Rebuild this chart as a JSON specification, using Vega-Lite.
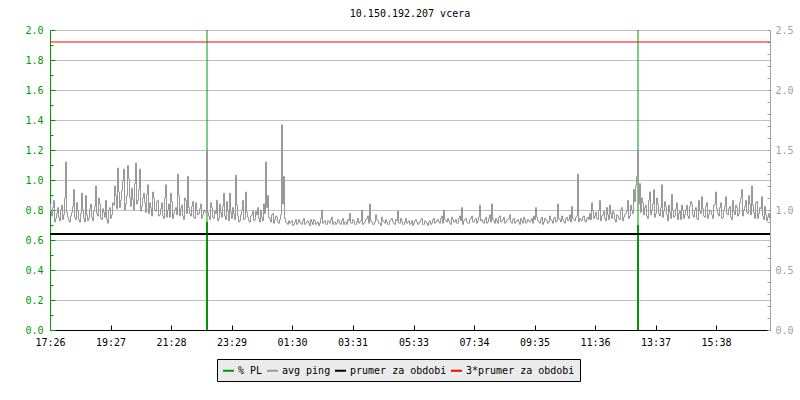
{
"$schema": "https://vega.github.io/schema/vega-lite/v6.json",
"width": 720,
"height": 300,
"autosize": {"type": "none"},
"padding": {"left": 50, "top": 30, "right": 30, "bottom": 70},
"background": "white",
"title": {"text": "10.150.192.207 vcera", "font": "DejaVu Sans Mono", "fontSize": 10, "fontWeight": "normal", "color": "#000000", "anchor": "middle", "frame": "group", "offset": -2, "baseline": "alphabetic"},
"config": {
  "view": {"stroke": null},
  "font": "DejaVu Sans Mono",
  "axis": {"labelFont": "DejaVu Sans Mono", "labelFontSize": 10, "labelOverlap": false, "labelFlush": false, "title": null}
},
"layer": [
  {
    "data": {"values": [{"m": 314, "lo": 0, "hi": 2, "mid": 0.72}, {"m": 1176, "lo": 0, "hi": 2, "mid": 0.70}]},
    "layer": [
      {
        "mark": {"type": "rule", "strokeWidth": 1},
        "encoding": {
          "x": {"field": "m", "type": "quantitative", "scale": {"domain": [0, 1440], "nice": false},
                "axis": {"values": [0, 121, 242, 363, 484, 605, 727, 848, 969, 1090, 1211, 1332], "tickCount": 40, "labelExpr": "timeFormat(datetime(2000,0,1,17,26+datum.value),'%H:%M')", "tickSize": -5, "tickColor": "#000000", "domainColor": "#000000", "labelColor": "#000000", "labelPadding": 12, "grid": false, "labelFlush": false, "title": null}},
          "y": {"field": "lo", "type": "quantitative", "scale": {"domain": [0, 2], "nice": false},
                "axis": {"orient": "left", "values": [0, 0.1, 0.2, 0.3, 0.4, 0.5, 0.6, 0.7, 0.8, 0.9, 1, 1.1, 1.2, 1.3, 1.4, 1.5, 1.6, 1.7, 1.8, 1.9, 2], "tickCount": 40, "format": ".1f", "labelExpr": "round(datum.value*10)%2==0 ? datum.label : ''", "labelColor": "#009900", "domainColor": "#009900", "tickColor": "#009900", "tickSize": {"condition": {"test": "round(datum.value*10)%2==0", "value": -5}, "value": -3}, "labelPadding": 12, "grid": true, "gridColor": "#C0C0C0", "gridOpacity": {"condition": {"test": "round(datum.value*10)%2==0", "value": 1}, "value": 0}, "title": null}},
          "y2": {"field": "hi"},
          "color": {"datum": "% PL", "type": "nominal", "title": null,
                    "scale": {"domain": ["% PL", "avg ping", "prumer za obdobi", "3*prumer za obdobi"], "range": ["#009900", "#999999", "#000000", "#FF0000"]},
                    "legend": {"title": null, "orient": "none", "legendX": 167, "legendY": 329, "direction": "horizontal", "fillColor": "#EBEBEB", "strokeColor": "#000000", "padding": 5, "symbolType": "stroke", "symbolSize": 121, "symbolStrokeWidth": 2, "labelFont": "DejaVu Sans Mono", "labelFontSize": 10, "labelColor": "#000000", "labelOffset": 3, "columnPadding": 0, "cornerRadius": 0}}
        }
      },
      {
        "mark": {"type": "rule", "strokeWidth": 2},
        "encoding": {
          "x": {"field": "m", "type": "quantitative"},
          "y": {"field": "lo", "type": "quantitative"},
          "y2": {"field": "mid"},
          "color": {"datum": "% PL", "type": "nominal", "title": null}
        }
      }
    ]
  },
  {
    "layer": [
      {
        "data": {"values": [
{"m":0,"v":1.05},{"m":4,"v":0.95},{"m":8,"v":1.08},{"m":12,"v":0.93},{"m":16,"v":1.02},{"m":20,"v":0.91},{"m":24,"v":1.04},{"m":28,"v":0.96},{"m":32,"v":1.40},{"m":36,"v":0.94},
{"m":40,"v":0.90},{"m":44,"v":0.98},{"m":48,"v":1.17},{"m":52,"v":0.92},{"m":56,"v":0.99},{"m":60,"v":0.90},{"m":64,"v":1.14},{"m":68,"v":0.93},{"m":72,"v":1.12},{"m":76,"v":0.91},{"m":80,"v":1.01},{"m":84,"v":0.94},{"m":88,"v":0.99},{"m":92,"v":1.20},{"m":96,"v":0.95},{"m":100,"v":1.05},{"m":104,"v":0.92},{"m":108,"v":0.98},{"m":112,"v":1.08},{"m":116,"v":0.89},{"m":120,"v":1.02},{"m":124,"v":0.96},
{"m":128,"v":1.04},{"m":132,"v":1.12},{"m":136,"v":1.35},{"m":140,"v":1.02},{"m":144,"v":1.16},{"m":148,"v":1.34},{"m":152,"v":1.05},{"m":156,"v":1.37},{"m":160,"v":1.10},{"m":164,"v":1.18},{"m":168,"v":1.00},{"m":172,"v":1.39},{"m":176,"v":1.08},{"m":180,"v":1.34},{"m":184,"v":1.03},{"m":188,"v":1.14},{"m":192,"v":0.98},{"m":196,"v":1.21},{"m":200,"v":1.06},{"m":204,"v":0.95},{"m":208,"v":1.10},{"m":212,"v":0.99},{"m":216,"v":1.08},
{"m":220,"v":0.96},{"m":224,"v":1.06},{"m":228,"v":0.93},{"m":232,"v":1.21},{"m":236,"v":1.00},{"m":240,"v":0.94},{"m":244,"v":1.07},{"m":248,"v":0.97},{"m":252,"v":1.02},{"m":256,"v":1.30},{"m":260,"v":0.95},{"m":264,"v":1.04},{"m":268,"v":0.92},{"m":272,"v":1.08},{"m":276,"v":1.28},{"m":280,"v":0.97},{"m":284,"v":1.03},{"m":288,"v":0.94},{"m":292,"v":1.06},{"m":296,"v":0.96},{"m":300,"v":1.01},{"m":304,"v":0.93},{"m":308,"v":1.00},
{"m":314,"v":1.50},
{"m":316,"v":0.98},{"m":320,"v":0.92},{"m":324,"v":1.02},{"m":328,"v":0.93},{"m":332,"v":0.97},{"m":336,"v":0.91},{"m":340,"v":1.05},{"m":344,"v":0.94},{"m":348,"v":1.14},{"m":352,"v":0.92},{"m":356,"v":0.99},{"m":360,"v":1.14},{"m":364,"v":0.93},{"m":368,"v":0.97},{"m":372,"v":1.29},{"m":376,"v":0.95},{"m":380,"v":0.91},{"m":384,"v":1.00},{"m":388,"v":0.92},{"m":392,"v":1.15},{"m":396,"v":0.94},{"m":400,"v":0.90},{"m":404,"v":0.96},{"m":408,"v":0.91},{"m":412,"v":0.99},{"m":416,"v":1.02},{"m":420,"v":0.90},{"m":424,"v":0.94},{"m":428,"v":1.05},{"m":432,"v":1.40},{"m":436,"v":1.12},{"m":440,"v":0.93},{"m":444,"v":0.96},{"m":448,"v":0.89},{"m":452,"v":0.95},{"m":456,"v":0.90},{"m":460,"v":0.92},{"m":464,"v":1.71},{"m":468,"v":1.28},{"m":472,"v":0.90},{"m":476,"v":0.88},
{"m":480,"v":0.89},{"m":484,"v":0.91},{"m":488,"v":0.88},{"m":492,"v":0.92},{"m":496,"v":0.89},{"m":500,"v":0.90},{"m":504,"v":0.88},{"m":508,"v":0.93},{"m":512,"v":0.89},{"m":516,"v":0.91},{"m":520,"v":0.87},{"m":524,"v":0.90},{"m":528,"v":0.92},{"m":532,"v":0.88},{"m":536,"v":0.90},{"m":540,"v":0.89},{"m":544,"v":1.00},{"m":548,"v":0.90},{"m":552,"v":0.88},{"m":556,"v":0.91},{"m":560,"v":0.89},{"m":564,"v":0.94},{"m":568,"v":0.90},{"m":572,"v":0.88},{"m":576,"v":0.92},{"m":580,"v":0.89},{"m":584,"v":0.91},{"m":588,"v":0.88},{"m":592,"v":0.90},{"m":596,"v":0.92},{"m":600,"v":0.97},{"m":604,"v":0.89},{"m":608,"v":0.91},{"m":612,"v":0.88},{"m":616,"v":0.93},{"m":620,"v":0.90},{"m":624,"v":1.00},{"m":628,"v":0.89},{"m":632,"v":0.92},{"m":636,"v":0.95},{"m":640,"v":1.05},{"m":644,"v":0.90},{"m":648,"v":0.88},{"m":652,"v":0.96},{"m":656,"v":0.91},{"m":660,"v":0.89},{"m":664,"v":0.94},{"m":668,"v":0.90},{"m":672,"v":0.92},{"m":676,"v":0.88},{"m":680,"v":0.91},{"m":684,"v":0.93},{"m":688,"v":0.89},{"m":692,"v":0.92},{"m":696,"v":0.99},{"m":700,"v":0.89},{"m":704,"v":0.91},{"m":708,"v":0.88},{"m":712,"v":0.93},{"m":716,"v":0.90},
{"m":720,"v":0.88},{"m":724,"v":0.91},{"m":728,"v":0.89},{"m":732,"v":0.92},{"m":736,"v":0.88},{"m":740,"v":0.90},{"m":744,"v":0.93},{"m":748,"v":0.88},{"m":752,"v":0.90},{"m":756,"v":0.87},{"m":760,"v":0.91},{"m":764,"v":0.89},{"m":768,"v":0.93},{"m":772,"v":0.90},{"m":776,"v":0.92},{"m":780,"v":0.89},{"m":784,"v":0.95},{"m":788,"v":1.00},{"m":792,"v":0.91},{"m":796,"v":0.93},{"m":800,"v":0.89},{"m":804,"v":0.94},{"m":808,"v":0.90},{"m":812,"v":0.92},{"m":816,"v":0.89},{"m":820,"v":0.95},{"m":824,"v":1.02},{"m":828,"v":0.91},{"m":832,"v":0.93},{"m":836,"v":0.89},{"m":840,"v":0.92},{"m":844,"v":0.95},{"m":848,"v":0.90},{"m":852,"v":0.93},{"m":856,"v":0.91},{"m":860,"v":1.04},{"m":864,"v":0.92},{"m":868,"v":0.89},{"m":872,"v":0.94},{"m":876,"v":0.90},{"m":880,"v":0.96},{"m":884,"v":1.05},{"m":888,"v":0.91},{"m":892,"v":0.93},{"m":896,"v":0.89},{"m":900,"v":0.95},{"m":904,"v":0.91},{"m":908,"v":0.94},{"m":912,"v":0.90},{"m":916,"v":0.92},{"m":920,"v":0.96},{"m":924,"v":0.89},{"m":928,"v":0.93},{"m":932,"v":0.90},{"m":936,"v":0.92},{"m":940,"v":0.88},{"m":944,"v":0.91},{"m":948,"v":0.94},{"m":952,"v":0.89},{"m":956,"v":0.92},
{"m":960,"v":0.90},{"m":964,"v":0.93},{"m":968,"v":0.95},{"m":972,"v":1.02},{"m":976,"v":0.91},{"m":980,"v":0.89},{"m":984,"v":0.94},{"m":988,"v":0.90},{"m":992,"v":0.92},{"m":996,"v":0.89},{"m":1000,"v":0.95},{"m":1004,"v":0.91},{"m":1008,"v":0.93},{"m":1012,"v":0.90},{"m":1016,"v":1.05},{"m":1020,"v":0.92},{"m":1024,"v":0.95},{"m":1028,"v":0.90},{"m":1032,"v":0.93},{"m":1036,"v":0.91},{"m":1040,"v":0.96},{"m":1044,"v":1.03},{"m":1048,"v":0.92},{"m":1052,"v":0.94},{"m":1056,"v":1.30},{"m":1060,"v":0.93},{"m":1064,"v":0.91},{"m":1068,"v":0.95},{"m":1072,"v":0.90},{"m":1076,"v":0.94},
{"m":1080,"v":0.97},{"m":1084,"v":1.06},{"m":1088,"v":0.93},{"m":1092,"v":0.98},{"m":1096,"v":0.92},{"m":1100,"v":1.08},{"m":1104,"v":0.95},{"m":1108,"v":0.99},{"m":1112,"v":0.91},{"m":1116,"v":0.96},{"m":1120,"v":1.04},{"m":1124,"v":0.93},{"m":1128,"v":0.97},{"m":1132,"v":0.90},{"m":1136,"v":0.95},{"m":1140,"v":0.92},{"m":1144,"v":1.02},{"m":1148,"v":0.94},{"m":1152,"v":0.97},{"m":1156,"v":1.08},{"m":1160,"v":0.95},{"m":1164,"v":1.00},{"m":1168,"v":1.17},
{"m":1172,"v":1.20},{"m":1176,"v":1.50},
{"m":1180,"v":1.22},{"m":1184,"v":1.10},{"m":1188,"v":0.96},{"m":1192,"v":1.04},{"m":1196,"v":0.93},{"m":1200,"v":1.15},{"m":1204,"v":1.00},{"m":1208,"v":1.17},{"m":1212,"v":0.97},{"m":1216,"v":1.05},{"m":1220,"v":0.95},{"m":1224,"v":1.21},{"m":1228,"v":0.99},{"m":1232,"v":1.03},{"m":1236,"v":0.91},{"m":1240,"v":0.98},{"m":1244,"v":1.13},{"m":1248,"v":0.94},{"m":1252,"v":1.01},{"m":1256,"v":0.92},{"m":1260,"v":0.99},{"m":1264,"v":1.04},{"m":1268,"v":0.93},{"m":1272,"v":1.00},{"m":1276,"v":0.95},{"m":1280,"v":1.03},{"m":1284,"v":1.05},{"m":1288,"v":0.94},{"m":1292,"v":1.02},{"m":1296,"v":0.92},{"m":1300,"v":0.99},{"m":1304,"v":1.11},{"m":1308,"v":0.95},{"m":1312,"v":1.03},{"m":1316,"v":0.93},{"m":1320,"v":1.00},{"m":1324,"v":0.96},{"m":1328,"v":1.04},{"m":1332,"v":1.15},{"m":1336,"v":0.97},{"m":1340,"v":1.02},{"m":1344,"v":0.93},{"m":1348,"v":1.00},{"m":1352,"v":1.11},{"m":1356,"v":0.96},{"m":1360,"v":1.03},{"m":1364,"v":0.92},{"m":1368,"v":0.99},{"m":1372,"v":1.04},{"m":1376,"v":0.95},{"m":1380,"v":1.06},{"m":1384,"v":1.17},{"m":1388,"v":1.00},{"m":1392,"v":1.08},{"m":1396,"v":0.97},{"m":1400,"v":1.05},{"m":1404,"v":1.20},{"m":1408,"v":0.98},{"m":1412,"v":1.06},{"m":1416,"v":0.93},{"m":1420,"v":1.02},{"m":1424,"v":1.11},{"m":1428,"v":0.92},{"m":1432,"v":0.96},{"m":1436,"v":0.94},{"m":1440,"v":0.93},
{"m":2,"v":0.99},{"m":6,"v":1.02},{"m":10,"v":0.90},{"m":14,"v":0.97},{"m":18,"v":0.94},{"m":22,"v":1.00},{"m":26,"v":0.92},{"m":30,"v":1.10},{"m":34,"v":0.98},{"m":38,"v":0.91},
{"m":42,"v":0.95},{"m":46,"v":1.03},{"m":50,"v":0.94},{"m":54,"v":1.06},{"m":58,"v":0.92},{"m":62,"v":0.97},{"m":66,"v":1.00},{"m":70,"v":0.90},{"m":74,"v":0.96},{"m":78,"v":0.93},{"m":82,"v":1.05},{"m":86,"v":0.91},{"m":90,"v":1.03},{"m":94,"v":0.97},{"m":98,"v":1.10},{"m":102,"v":0.93},{"m":106,"v":1.01},{"m":110,"v":0.94},{"m":114,"v":0.92},{"m":118,"v":1.00},{"m":122,"v":0.93},{"m":126,"v":1.06},
{"m":130,"v":1.20},{"m":134,"v":1.01},{"m":138,"v":1.15},{"m":142,"v":1.08},{"m":146,"v":1.24},{"m":150,"v":1.00},{"m":154,"v":1.12},{"m":158,"v":1.26},{"m":162,"v":1.03},{"m":166,"v":1.09},{"m":170,"v":1.22},{"m":174,"v":1.05},{"m":178,"v":1.17},{"m":182,"v":0.99},{"m":186,"v":1.10},{"m":190,"v":1.06},{"m":194,"v":1.13},{"m":198,"v":0.97},{"m":202,"v":1.02},{"m":206,"v":1.15},{"m":210,"v":1.00},{"m":214,"v":1.07},{"m":218,"v":0.95},
{"m":222,"v":1.01},{"m":226,"v":0.95},{"m":230,"v":1.10},{"m":234,"v":0.94},{"m":238,"v":1.05},{"m":242,"v":1.14},{"m":246,"v":0.93},{"m":250,"v":1.00},{"m":254,"v":0.96},{"m":258,"v":1.12},{"m":262,"v":1.01},{"m":266,"v":0.95},{"m":270,"v":1.10},{"m":274,"v":0.97},{"m":278,"v":1.02},{"m":282,"v":0.95},{"m":286,"v":1.07},{"m":290,"v":0.93},{"m":294,"v":1.00},{"m":298,"v":0.97},{"m":302,"v":1.05},{"m":306,"v":0.96},{"m":310,"v":0.99},{"m":312,"v":0.98},
{"m":318,"v":0.95},{"m":322,"v":1.06},{"m":326,"v":0.94},{"m":330,"v":0.99},{"m":334,"v":1.08},{"m":338,"v":0.93},{"m":342,"v":0.98},{"m":346,"v":1.03},{"m":350,"v":0.95},{"m":354,"v":1.07},{"m":358,"v":0.91},{"m":362,"v":0.98},{"m":366,"v":1.02},{"m":370,"v":0.92},{"m":374,"v":1.04},{"m":378,"v":0.90},{"m":382,"v":0.96},{"m":386,"v":1.08},{"m":390,"v":0.93},{"m":394,"v":0.98},{"m":398,"v":0.91},{"m":402,"v":0.95},{"m":406,"v":0.99},{"m":410,"v":0.92},{"m":414,"v":0.96},{"m":418,"v":0.93},{"m":422,"v":1.00},{"m":426,"v":0.91},{"m":430,"v":0.97},{"m":434,"v":1.02},{"m":438,"v":0.94},{"m":442,"v":0.90},{"m":446,"v":0.97},{"m":450,"v":0.92},{"m":454,"v":0.94},{"m":458,"v":0.89},{"m":462,"v":0.96},{"m":466,"v":1.05},{"m":470,"v":0.93},{"m":474,"v":0.89},{"m":478,"v":0.91},
{"m":482,"v":0.90},{"m":486,"v":0.87},{"m":490,"v":0.90},{"m":494,"v":0.88},{"m":498,"v":0.92},{"m":502,"v":0.89},{"m":506,"v":0.91},{"m":510,"v":0.88},{"m":514,"v":0.90},{"m":518,"v":0.89},{"m":522,"v":0.92},{"m":526,"v":0.88},{"m":530,"v":0.91},{"m":534,"v":0.89},{"m":538,"v":0.87},{"m":542,"v":0.93},{"m":546,"v":0.89},{"m":550,"v":0.91},{"m":554,"v":0.88},{"m":558,"v":0.90},{"m":562,"v":0.92},{"m":566,"v":0.88},{"m":570,"v":0.90},{"m":574,"v":0.89},{"m":578,"v":0.91},{"m":582,"v":0.88},{"m":586,"v":0.93},{"m":590,"v":0.90},{"m":594,"v":0.88},{"m":598,"v":0.91},{"m":602,"v":0.89},{"m":606,"v":0.92},{"m":610,"v":0.88},{"m":614,"v":0.90},{"m":618,"v":0.89},{"m":622,"v":0.91},{"m":626,"v":0.88},{"m":630,"v":0.90},{"m":634,"v":0.93},{"m":638,"v":0.89},{"m":642,"v":0.91},{"m":646,"v":0.88},{"m":650,"v":0.90},{"m":654,"v":0.92},{"m":658,"v":0.89},{"m":662,"v":0.87},{"m":666,"v":0.91},{"m":670,"v":0.89},{"m":674,"v":0.90},{"m":678,"v":0.88},{"m":682,"v":0.92},{"m":686,"v":0.90},{"m":690,"v":0.88},{"m":694,"v":0.91},{"m":698,"v":0.89},{"m":702,"v":0.93},{"m":706,"v":0.88},{"m":710,"v":0.90},{"m":714,"v":0.89},{"m":718,"v":0.91},
{"m":722,"v":0.89},{"m":726,"v":0.87},{"m":730,"v":0.91},{"m":734,"v":0.90},{"m":738,"v":0.89},{"m":742,"v":0.92},{"m":746,"v":0.88},{"m":750,"v":0.91},{"m":754,"v":0.89},{"m":758,"v":0.90},{"m":762,"v":0.88},{"m":766,"v":0.92},{"m":770,"v":0.89},{"m":774,"v":0.91},{"m":778,"v":0.90},{"m":782,"v":0.93},{"m":786,"v":0.89},{"m":790,"v":0.92},{"m":794,"v":0.90},{"m":798,"v":0.91},{"m":802,"v":0.88},{"m":806,"v":0.92},{"m":810,"v":0.90},{"m":814,"v":0.89},{"m":818,"v":0.93},{"m":822,"v":0.91},{"m":826,"v":0.88},{"m":830,"v":0.92},{"m":834,"v":0.90},{"m":838,"v":0.89},{"m":842,"v":0.93},{"m":846,"v":0.90},{"m":850,"v":0.92},{"m":854,"v":0.89},{"m":858,"v":0.94},{"m":862,"v":0.91},{"m":866,"v":0.90},{"m":870,"v":0.92},{"m":874,"v":0.89},{"m":878,"v":0.93},{"m":882,"v":0.90},{"m":886,"v":0.92},{"m":890,"v":0.89},{"m":894,"v":0.91},{"m":898,"v":0.94},{"m":902,"v":0.90},{"m":906,"v":0.92},{"m":910,"v":0.89},{"m":914,"v":0.91},{"m":918,"v":0.93},{"m":922,"v":0.90},{"m":926,"v":0.92},{"m":930,"v":0.89},{"m":934,"v":0.91},{"m":938,"v":0.90},{"m":942,"v":0.93},{"m":946,"v":0.89},{"m":950,"v":0.92},{"m":954,"v":0.90},{"m":958,"v":0.91},
{"m":962,"v":0.91},{"m":966,"v":0.89},{"m":970,"v":0.92},{"m":974,"v":0.94},{"m":978,"v":0.90},{"m":982,"v":0.92},{"m":986,"v":0.88},{"m":990,"v":0.93},{"m":994,"v":0.91},{"m":998,"v":0.90},{"m":1002,"v":0.92},{"m":1006,"v":0.89},{"m":1010,"v":0.94},{"m":1014,"v":0.91},{"m":1018,"v":0.93},{"m":1022,"v":0.90},{"m":1026,"v":0.92},{"m":1030,"v":0.89},{"m":1034,"v":0.94},{"m":1038,"v":0.92},{"m":1042,"v":0.90},{"m":1046,"v":0.93},{"m":1050,"v":0.91},{"m":1054,"v":0.95},{"m":1058,"v":0.90},{"m":1062,"v":0.92},{"m":1066,"v":0.94},{"m":1070,"v":0.91},{"m":1074,"v":0.93},{"m":1078,"v":0.92},
{"m":1082,"v":0.92},{"m":1086,"v":0.99},{"m":1090,"v":0.95},{"m":1094,"v":0.93},{"m":1098,"v":1.00},{"m":1102,"v":0.91},{"m":1106,"v":0.96},{"m":1110,"v":0.93},{"m":1114,"v":1.02},{"m":1118,"v":0.92},{"m":1122,"v":0.97},{"m":1126,"v":0.99},{"m":1130,"v":0.92},{"m":1134,"v":0.96},{"m":1138,"v":0.93},{"m":1142,"v":1.00},{"m":1146,"v":0.91},{"m":1150,"v":0.96},{"m":1154,"v":0.99},{"m":1158,"v":0.93},{"m":1162,"v":1.04},{"m":1166,"v":0.97},{"m":1170,"v":1.07},
{"m":1174,"v":1.28},{"m":1178,"v":1.05},
{"m":1182,"v":0.98},{"m":1186,"v":1.06},{"m":1190,"v":1.02},{"m":1194,"v":0.95},{"m":1198,"v":1.08},{"m":1202,"v":0.96},{"m":1206,"v":1.05},{"m":1210,"v":0.94},{"m":1214,"v":1.10},{"m":1218,"v":0.97},{"m":1222,"v":1.02},{"m":1226,"v":0.94},{"m":1230,"v":1.07},{"m":1234,"v":0.96},{"m":1238,"v":1.04},{"m":1242,"v":0.93},{"m":1246,"v":1.00},{"m":1250,"v":0.95},{"m":1254,"v":1.06},{"m":1258,"v":0.97},{"m":1262,"v":0.92},{"m":1266,"v":1.00},{"m":1270,"v":0.96},{"m":1274,"v":1.04},{"m":1278,"v":0.93},{"m":1282,"v":1.07},{"m":1286,"v":0.96},{"m":1290,"v":1.00},{"m":1294,"v":0.93},{"m":1298,"v":1.08},{"m":1302,"v":0.97},{"m":1306,"v":1.01},{"m":1310,"v":0.94},{"m":1314,"v":1.06},{"m":1318,"v":0.96},{"m":1322,"v":0.99},{"m":1326,"v":0.93},{"m":1330,"v":1.05},{"m":1334,"v":1.01},{"m":1338,"v":0.95},{"m":1342,"v":1.06},{"m":1346,"v":0.94},{"m":1350,"v":1.03},{"m":1354,"v":0.97},{"m":1358,"v":1.01},{"m":1362,"v":0.94},{"m":1366,"v":1.08},{"m":1370,"v":0.96},{"m":1374,"v":1.02},{"m":1378,"v":0.97},{"m":1382,"v":1.10},{"m":1386,"v":0.95},{"m":1390,"v":1.03},{"m":1394,"v":0.98},{"m":1398,"v":1.12},{"m":1402,"v":0.96},{"m":1406,"v":1.04},{"m":1410,"v":0.93},{"m":1414,"v":1.07},{"m":1418,"v":0.97},{"m":1422,"v":1.01},{"m":1426,"v":0.95},{"m":1430,"v":1.03},{"m":1434,"v":0.91},{"m":1438,"v":0.97}
        ]},
        "mark": {"type": "line", "strokeWidth": 1, "interpolate": "step"},
        "encoding": {
          "x": {"field": "m", "type": "quantitative"},
          "y": {"field": "v", "type": "quantitative", "scale": {"domain": [0, 2.5], "nice": false},
                "axis": {"orient": "right", "values": [0, 0.1, 0.2, 0.3, 0.4, 0.5, 0.6, 0.7, 0.8, 0.9, 1, 1.1, 1.2, 1.3, 1.4, 1.5, 1.6, 1.7, 1.8, 1.9, 2, 2.1, 2.2, 2.3, 2.4, 2.5], "tickCount": 40, "format": ".1f", "labelExpr": "round(datum.value*10)%5==0 ? datum.label : ''", "labelColor": "#A0A0A0", "domainColor": "#A0A0A0", "tickColor": "#A0A0A0", "tickSize": -3, "labelPadding": 8, "grid": false, "title": null}},
          "color": {"datum": "avg ping", "type": "nominal", "title": null}
        }
      },
      {
        "data": {"values": [{"s": "prumer za obdobi", "v": 0.8}]},
        "mark": {"type": "rule", "strokeWidth": 2},
        "encoding": {
          "y": {"field": "v", "type": "quantitative"},
          "color": {"field": "s", "type": "nominal", "title": null}
        }
      },
      {
        "data": {"values": [{"s": "3*prumer za obdobi", "v": 2.4}]},
        "mark": {"type": "rule", "strokeWidth": 1},
        "encoding": {
          "y": {"field": "v", "type": "quantitative"},
          "color": {"field": "s", "type": "nominal", "title": null}
        }
      }
    ]
  }
],
"resolve": {"scale": {"y": "independent"}, "axis": {"y": "independent"}}
}
